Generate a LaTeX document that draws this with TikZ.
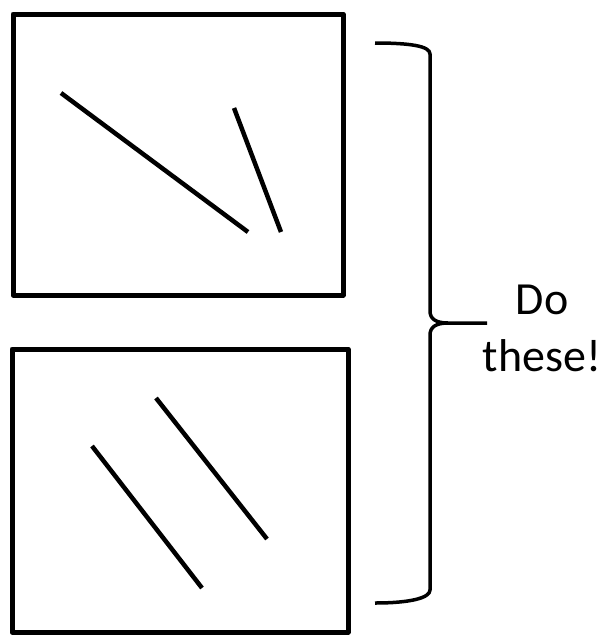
\documentclass[tikz,border=0pt]{standalone}
\usepackage{fontspec}
\setmainfont{Carlito}

\begin{document}
\begin{tikzpicture}[x=1pt, y=-1pt, line join=round]
  \useasboundingbox (0,0) rectangle (608,635);

  % Top box with two skew lines
  \draw[line width=5pt] (13,14) rectangle (343,295);
  \draw[line width=4.5pt] (61,93) -- (248,232);
  \draw[line width=4.5pt] (234,108) -- (281,232);

  % Bottom box with two parallel lines
  \draw[line width=5pt] (12,349) rectangle (348,632);
  \draw[line width=4.5pt] (92,446) -- (202,588);
  \draw[line width=4.5pt] (156,398) -- (267,539);

  % Brace
  \draw[line width=3.5pt] (375,43) .. controls (410,43) and (430,46) .. (430,54)
    -- (430,311) .. controls (430,319) and (436,323) .. (448,323) -- (487,323);
  \draw[line width=3.5pt] (448,323) .. controls (436,323) and (430,327) .. (430,335)
    -- (430,590) .. controls (430,598) and (410,603) .. (375,603);

  \node[align=center, font=\fontsize{46}{57}\selectfont] (label) at (542,328) {Do\\these!};
\end{tikzpicture}
\end{document}
